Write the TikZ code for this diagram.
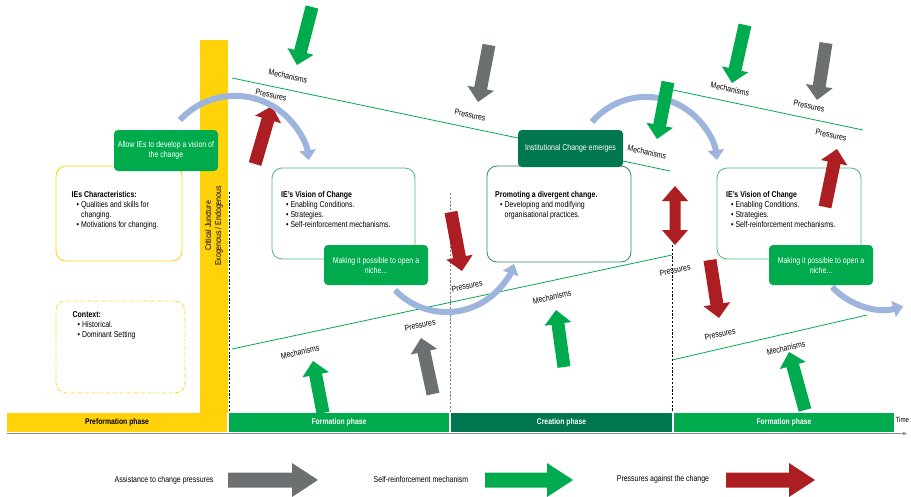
\documentclass[tikz,border=0pt]{standalone}
\usepackage{fontspec}
\setmainfont[FakeStretch=0.82]{Liberation Sans}
\usetikzlibrary{arrows.meta}
\definecolor{cyel}{HTML}{FFD20A}
\definecolor{cgrn}{HTML}{00AB4E}
\definecolor{cdgr}{HTML}{00774F}
\definecolor{cred}{HTML}{AD1E23}
\definecolor{cgry}{HTML}{6D7070}
\definecolor{cblu}{HTML}{9DB4DD}
\definecolor{cbox}{HTML}{4DBB70}
\definecolor{cboxd}{HTML}{2E8A63}
\definecolor{ctl}{HTML}{8C8C8C}
\newcommand\baw{6.5}
\newcommand\bah{13.5}
\newcommand\bal{14}
\newcommand\blockarrow[5]{%
  \pgfmathsetmacro\bdx{(#4)-(#2)}%
  \pgfmathsetmacro\bdy{(#3)-(#5)}%
  \pgfmathsetmacro\bang{atan2(\bdy,\bdx)}%
  \pgfmathsetmacro\blen{veclen(\bdx,\bdy)}%
  \pgfmathsetmacro\bsh{\blen-\bal}%
  \fill[#1,shift={(#2,#3)},rotate=\bang] (0pt,-\baw pt) -- (\bsh pt,-\baw pt) -- (\bsh pt,-\bah pt) -- (\blen pt,0pt) -- (\bsh pt,\bah pt) -- (\bsh pt,\baw pt) -- (0pt,\baw pt) -- cycle;%
}
\newcommand\dblockarrow[5]{%
  \pgfmathsetmacro\bdx{(#4)-(#2)}%
  \pgfmathsetmacro\bdy{(#3)-(#5)}%
  \pgfmathsetmacro\bang{atan2(\bdy,\bdx)}%
  \pgfmathsetmacro\blen{veclen(\bdx,\bdy)}%
  \pgfmathsetmacro\bsh{\blen-\bal}%
  \fill[#1,shift={(#2,#3)},rotate=\bang] (0pt,0pt) -- (\bal pt,\bah pt) -- (\bal pt,\baw pt) -- (\bsh pt,\baw pt) -- (\bsh pt,\bah pt) -- (\blen pt,0pt) -- (\bsh pt,-\bah pt) -- (\bsh pt,-\baw pt) -- (\bal pt,-\baw pt) -- (\bal pt,-\bah pt) -- cycle;%
}
\begin{document}
\begin{tikzpicture}[x=1pt,y=-1pt,
  every node/.style={inner sep=0pt},
  fnt/.style={font=\fontsize{8.5}{10}\selectfont},
  txt/.style={fnt, align=left, anchor=north west},
  lbl/.style={fnt},
  gbox/.style={fnt, fill=cgrn, text=white, rounded corners=4pt, align=center},
  obox/.style={draw=#1, line width=0.8pt, rounded corners=10pt},
  phase/.style={font=\bfseries\fontsize{8.3}{10}\selectfont, minimum height=19pt},
  gline/.style={cgrn, line width=0.8pt},
  dline/.style={line width=0.8pt, dash pattern=on 2.2pt off 1.6pt},
  barc/.style={cblu, line width=6pt, -{Triangle[length=10pt,width=16pt]}},
]
\useasboundingbox (0,0) rectangle (911,496);
\clip (0,0) rectangle (911,496);
\fill[white] (0,0) rectangle (911,496);

% thin green lines
\coordinate (l1a) at (232,78);  \coordinate (l1b) at (518,138);
\coordinate (l2a) at (623,161); \coordinate (l2b) at (670,171);
\coordinate (l3a) at (673,90);  \coordinate (l3b) at (863,130);
\coordinate (l4a) at (232,349); \coordinate (l4b) at (672,255);
\coordinate (l5a) at (672,360); \coordinate (l5b) at (867,315);
\draw[gline] (l1a) -- (l1b);
\draw[gline] (l2a) -- (l2b);
\draw[gline] (l3a) -- (l3b);
\draw[gline] (l4a) -- (l4b);
\draw[gline] (l5a) -- (l5b);

% critical juncture bar
\fill[cyel] (200,40) rectangle (228,413);
\node[fnt, rotate=90, align=center] (cjt) at (214,226) {Critical Juncture\\Exogenous / Endogenous};

% phase bars
\node[phase, fill=cyel, minimum width=220pt] (pre) at (117,422.5) {Preformation phase};
\node[phase, fill=cgrn, text=white, minimum width=220pt] (form1) at (339,422.5) {Formation phase};
\node[phase, fill=cdgr, text=white, minimum width=221pt] (crea) at (561.5,422.5) {Creation phase};
\node[phase, fill=cgrn, text=white, minimum width=220pt] (form2) at (784,422.5) {Formation phase};
\coordinate (tl0) at (7,433.5); \coordinate (tl1) at (907,433.5);
\draw[ctl, line width=1.8pt, -{Latex[length=4pt,width=4pt]}] (tl0) -- (tl1);
\node[font=\fontsize{7.5}{9}\selectfont, anchor=west] (time) at (895.5,420) {Time};

% dashed separators
\coordinate (d1a) at (229,192); \coordinate (d1b) at (229,412);
\coordinate (d2a) at (450,193); \coordinate (d2b) at (450,412);
\coordinate (d3a) at (672,245); \coordinate (d3b) at (672,412);
\draw[dline, black] (d1a) -- (d1b);
\draw[dline, gray] (d2a) -- (d2b);
\draw[dline, black] (d3a) -- (d3b);

% outline boxes
\node[obox=cyel, minimum width=126pt, minimum height=95pt] (iec) at (119,213.5) {};
\node[draw=cyel, line width=0.8pt, rounded corners=10pt, dash pattern=on 3pt off 1.5pt on 1pt off 1.5pt, minimum width=129pt, minimum height=92pt] (ctx) at (120.5,347) {};
\node[obox=cbox, minimum width=143pt, minimum height=91pt] (vis1) at (343.5,213.5) {};
\node[obox=cboxd, minimum width=144pt, minimum height=96pt] (prom) at (559,214) {};
\node[obox=cbox, minimum width=144pt, minimum height=91pt] (vis2) at (789,213.5) {};

% box texts
\node[txt] (iect) at (71.5,190.8) {\textbf{IEs Characteristics:}\\\hspace*{5pt}\textbullet\ Qualities and skills for\\\hspace*{9.5pt}changing.\\\hspace*{5pt}\textbullet\ Motivations for changing.};
\node[txt] (ctxt) at (72.5,311.6) {\textbf{Context:}\\\hspace*{5pt}\textbullet\ Historical.\\\hspace*{5pt}\textbullet\ Dominant Setting};
\node[txt] (vis1t) at (281,190.8) {\textbf{IE's Vision of Change}\\\hspace*{5pt}\textbullet\ Enabling Conditions.\\\hspace*{5pt}\textbullet\ Strategies.\\\hspace*{5pt}\textbullet\ Self-reinforcement mechanisms.};
\node[txt] (vis2t) at (726,190.8) {\textbf{IE's Vision of Change}\\\hspace*{5pt}\textbullet\ Enabling Conditions.\\\hspace*{5pt}\textbullet\ Strategies.\\\hspace*{5pt}\textbullet\ Self-reinforcement mechanisms.};
\node[txt] (promt) at (495,191.6) {\textbf{Promoting a divergent change.}\\\hspace*{5pt}\textbullet\ Developing and modifying\\\hspace*{9.5pt}organisational practices.};

% red arrow under first arc
\blockarrow{cred}{255}{164}{272}{106}

% blue arcs
\draw[barc] (180,120) arc[start angle=137.4, end angle=8, radius=74.7pt];
\draw[barc] (592,122) arc[start angle=139.6, end angle=6.6, radius=71.2pt];
\draw[barc] (395,290) arc[start angle=-136.3, end angle=-19, radius=71.3pt];
\draw[barc] (832,287) arc[start angle=-136.3, end angle=-74, radius=71.3pt];

% filled boxes
\node[gbox, minimum width=104pt, minimum height=41pt] (allow) at (166,150.5) {Allow IEs to develop a vision of\\the change};
\node[gbox, minimum width=104pt, minimum height=40pt] (niche1) at (376,265) {Making it possible to open a\\niche...};
\node[gbox, minimum width=104pt, minimum height=40pt] (niche2) at (821,265) {Making it possible to open a\\niche...};
\node[gbox, fill=cdgr, minimum width=105pt, minimum height=37pt] (ice) at (570.5,148.5) {Institutional Change emerges};

% block arrows
\blockarrow{cgrn}{312}{7}{297}{65}
\blockarrow{cgrn}{668}{82}{657}{139}
\blockarrow{cgrn}{745}{25}{732}{83}
\blockarrow{cgrn}{323}{413}{313}{361}
\blockarrow{cgrn}{564}{367}{556}{310}
\blockarrow{cgrn}{805}{410}{789}{352}
\blockarrow{cgry}{489}{45}{478}{102}
\blockarrow{cgry}{826}{43}{817}{100}
\blockarrow{cgry}{433}{394}{421}{338}
\blockarrow{cred}{825}{207}{837}{149}
\blockarrow{cred}{451}{212}{462}{271}
\blockarrow{cred}{710}{260}{719}{318}
{\renewcommand\baw{5.5}\renewcommand\bah{13}\renewcommand\bal{15}%
\dblockarrow{cred}{675}{186}{675}{245}}

% labels
\node[lbl, rotate=-12] (m1) at (288,76) {Mechanisms};
\node[lbl, rotate=-12] (p1) at (271,95) {Pressures};
\node[lbl, rotate=-12] (p2) at (470,115) {Pressures};
\node[lbl, rotate=-12] (m2) at (647,152) {Mechanisms};
\node[lbl, rotate=-12] (m3) at (730,89) {Mechanisms};
\node[lbl, rotate=-12] (p3) at (809,106) {Pressures};
\node[lbl, rotate=-12] (p4) at (831,135) {Pressures};
\node[lbl, rotate=12] (m4) at (300,352) {Mechanisms};
\node[lbl, rotate=12] (p5) at (420,325) {Pressures};
\node[lbl, rotate=12] (p6) at (467,286) {Pressures};
\node[lbl, rotate=12] (m5) at (552,297) {Mechanisms};
\node[lbl, rotate=12] (p7) at (675,270) {Pressures};
\node[lbl, rotate=12] (p8) at (720,334) {Pressures};
\node[lbl, rotate=12] (m6) at (786,348) {Mechanisms};

% legend
\node[fnt] (lg1) at (164,480) {Assistance to change pressures};
\node[fnt] (lg2) at (421,479.5) {Self-reinforcement mechanism};
\node[fnt] (lg3) at (663,479.5) {Pressures against the change};
\renewcommand\baw{7.5}\renewcommand\bah{17}\renewcommand\bal{26}
\blockarrow{cgry}{228}{480}{318}{480}
\blockarrow{cgrn}{485}{480}{573}{480}
\blockarrow{cred}{726}{480}{815}{480}
\end{tikzpicture}
\end{document}
